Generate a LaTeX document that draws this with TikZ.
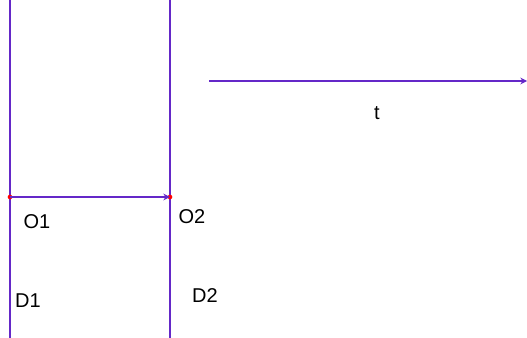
\documentclass[tikz,border=0pt]{standalone}
\usepackage{fontspec}
\setmainfont{Liberation Sans}
\usepackage{tikz}
\usetikzlibrary{arrows.meta}
\definecolor{lila}{RGB}{100,40,200}
\tikzset{
    achse/.style={color=lila, line width=1.2pt},
    pfeil/.style={achse, -{Stealth[length=5pt, width=5pt]}},
    punkt/.style={fill=red, inner sep=0pt, minimum size=3.5pt, circle},
    marke/.style={font=\fontsize{15}{17}\selectfont, inner sep=0pt}
}

\begin{document}
\begin{tikzpicture}[x=.75pt, y=-.75pt]
    \useasboundingbox (0,0) rectangle (527,338);
    % Linien.
    \coordinate (d1top) at (10,0);
    \coordinate (d1bot) at (10,338);
    \coordinate (d2top) at (170,0);
    \coordinate (d2bot) at (170,338);
    \coordinate (tstart) at (209,81);
    \coordinate (tend) at (527,81);
    \draw[achse] (d1top) -- (d1bot);
    \draw[achse] (d2top) -- (d2bot);
    \draw[pfeil] (tstart) -- (tend);

    % Punkte.
    \node[punkt] (o1) at (10,197) {};
    \node[punkt] (o2) at (170,197) {};
    \draw[pfeil] (o1.center) -- (o2.center);

    % Beschriftung.
    \node[marke] (lo1) at (37,222) {O1};
    \node[marke] (lo2) at (192,217) {O2};
    \node[marke] (ld1) at (28,301) {D1};
    \node[marke] (ld2) at (205,296) {D2};
    \node[marke] (lt) at (377,113) {t};
\end{tikzpicture}
\end{document}
